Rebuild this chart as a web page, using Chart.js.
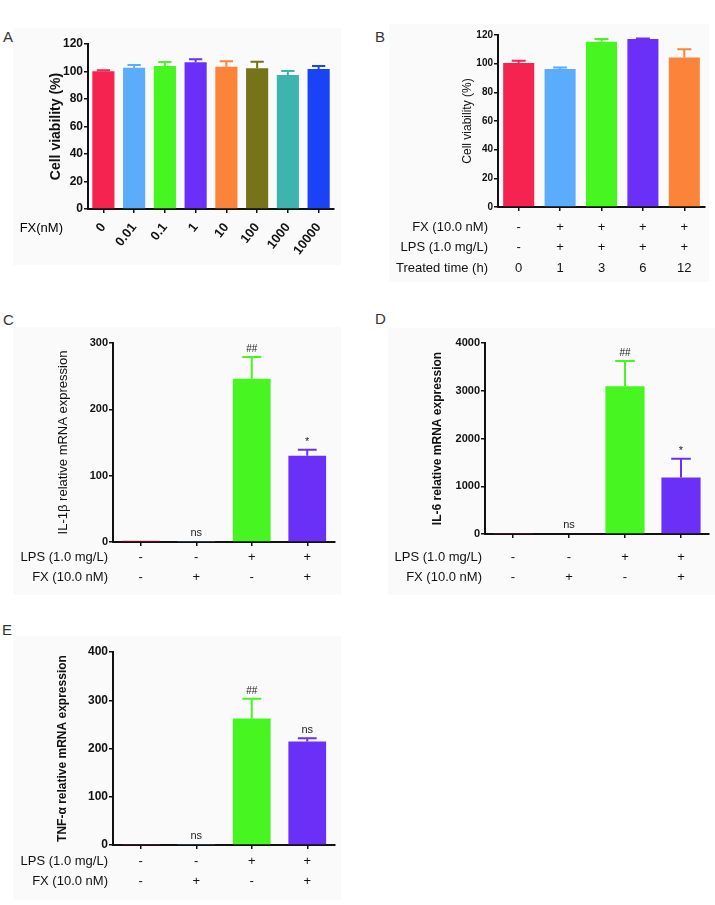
<!DOCTYPE html>
<html>
<head>
<meta charset="utf-8">
<script src="https://cdn.jsdelivr.net/npm/chart.js@4.4.0/dist/chart.umd.min.js"></script>
<style>
body { margin: 0; background: #fff; width: 715px; height: 905px; position: relative; overflow: hidden; font-family: "Liberation Sans", Arial, sans-serif; }
.panel { position: absolute; background: #fafafa; }
.tag { position: absolute; font-size: 15px; color: #333; }
canvas { position: absolute; }
</style>
</head>
<body>
<div class="panel" style="left:13px;top:28px;width:328px;height:237px"></div>
<div class="panel" style="left:389px;top:24px;width:320px;height:258px"></div>
<div class="panel" style="left:13px;top:327px;width:328px;height:268px"></div>
<div class="panel" style="left:388px;top:328px;width:327px;height:267px"></div>
<div class="panel" style="left:13px;top:636px;width:328px;height:264px"></div>

<div class="tag" style="left:3px;top:28px">A</div>
<div class="tag" style="left:375px;top:28px">B</div>
<div class="tag" style="left:3px;top:311px">C</div>
<div class="tag" style="left:375px;top:310px">D</div>
<div class="tag" style="left:2px;top:621px">E</div>

<canvas id="chartA" width="345" height="250" style="left:0;top:30px"></canvas>
<canvas id="chartB" width="355" height="265" style="left:360px;top:25px"></canvas>
<canvas id="chartC" width="345" height="270" style="left:0;top:325px"></canvas>
<canvas id="chartD" width="355" height="270" style="left:360px;top:325px"></canvas>
<canvas id="chartE" width="345" height="270" style="left:0;top:635px"></canvas>

<script>
const FONT = '"Liberation Sans", Arial, sans-serif';
Chart.defaults.font.family = FONT;
Chart.defaults.color = '#111';

const colors = ['#F5234F', '#5BACFB', '#47F520', '#6B30F8', '#FC843A', '#767419', '#3DB5AE', '#1A42F7'];

// panel A: viability vs FX dose
const aDoses = ['0', '0.01', '0.1', '1', '10', '100', '1000', '10000'];
const aViability = [100.2, 102.7, 104, 106.7, 103.5, 102.3, 97.5, 101.8];
const aError = [0.8, 2, 3, 2.3, 4, 4.8, 2.9, 2.2];

// panel B: viability vs treated time
const bTime = ['0', '1', '3', '6', '12'];
const bFx = ['-', '+', '+', '+', '+'];
const bLps = ['-', '+', '+', '+', '+'];
const bViability = [100.5, 96.3, 115.3, 117.2, 104.3];
const bError = [1.5, 1.1, 1.9, 0.4, 5.7];

// panels C, D, E: mRNA expression
const groups = ['1', '2', '3', '4'];
const lpsRow = ['-', '-', '+', '+'];
const fxRow = ['-', '+', '-', '+'];

const il1b = [2, 1.5, 246, 130];
const il1bError = [0, 0, 33, 9];
const il1bMarks = ['', 'ns', '##', '*'];

const il6 = [10, 15, 3096, 1182];
const il6Error = [0, 0, 528, 396];
const il6Marks = ['', 'ns', '##', '*'];

const tnf = [2, 2, 262, 214.5];
const tnfError = [0, 0, 41, 7];
const tnfMarks = ['', 'ns', '##', 'ns'];

// error bars, significance marks and the +/- rows under the axis
function extras(opts) {
    return {
        id: 'extras',
        afterDraw(chart) {
            const ctx = chart.ctx;
            const xs = chart.scales.x, ys = chart.scales.y;
            const bars = chart.getDatasetMeta(0).data;
            const values = chart.data.datasets[0].data;
            ctx.save();
            bars.forEach((bar, i) => {
                const err = opts.errors[i];
                const top = ys.getPixelForValue(values[i] + err);
                if (err > 0) {
                    const half = bar.width * opts.cap / 2;
                    ctx.strokeStyle = colors[i];
                    ctx.lineWidth = 2;
                    ctx.beginPath();
                    ctx.moveTo(bar.x, bar.y);
                    ctx.lineTo(bar.x, top);
                    ctx.moveTo(bar.x - half, top);
                    ctx.lineTo(bar.x + half, top);
                    ctx.stroke();
                }
                if (opts.marks && opts.marks[i]) {
                    const m = opts.marks[i];
                    ctx.fillStyle = '#222';
                    ctx.textAlign = 'center';
                    ctx.textBaseline = 'alphabetic';
                    ctx.font = (m === '##' ? '10px ' : '11px ') + FONT;
                    ctx.fillText(m, bar.x, top - 5);
                }
            });
            if (opts.rows) {
                ctx.fillStyle = '#111';
                ctx.textBaseline = 'middle';
                ctx.font = '13px ' + FONT;
                opts.rows.forEach((row, r) => {
                    const ry = chart.chartArea.bottom + opts.rowOffsets[r];
                    ctx.textAlign = 'right';
                    ctx.fillText(row.name, chart.chartArea.left - opts.headerGap, ry);
                    ctx.textAlign = 'center';
                    row.marks.forEach((m, i) => ctx.fillText(m, xs.getPixelForValue(i), ry));
                });
            }
            if (opts.xName) {
                ctx.textAlign = 'right';
                ctx.textBaseline = 'middle';
                ctx.font = '13px ' + FONT;
                ctx.fillText(opts.xName.text, opts.xName.x, opts.xName.y);
            }
            ctx.restore();
        }
    };
}

function makeChart(id, cfg) {
    const axisLine = { display: true, color: '#111', width: 2 };
    const tickMarks = { display: true, drawOnChartArea: false, offset: false, tickLength: 4, color: '#111', lineWidth: 1.5 };
    return new Chart(document.getElementById(id), {
        type: 'bar',
        data: {
            labels: cfg.labels,
            datasets: [{
                data: cfg.values,
                backgroundColor: colors.slice(0, cfg.values.length),
                borderWidth: 0,
                barPercentage: cfg.barPct,
                categoryPercentage: 1
            }]
        },
        options: {
            responsive: false,
            animation: false,
            layout: { padding: { top: cfg.padTop, right: cfg.padRight, left: 0, bottom: 0 } },
            plugins: { legend: { display: false }, tooltip: { enabled: false } },
            scales: {
                x: {
                    grid: tickMarks,
                    border: axisLine,
                    ticks: cfg.xTicks || { display: false },
                    afterFit: s => { s.height = cfg.xHeight; }
                },
                y: {
                    min: 0,
                    max: cfg.max,
                    grid: tickMarks,
                    border: axisLine,
                    ticks: {
                        stepSize: cfg.step, padding: 1, color: '#111',
                        font: { size: cfg.tickSize, weight: 'bold' },
                        callback: v => String(v)
                    },
                    title: {
                        display: true,
                        text: cfg.title,
                        color: '#111',
                        font: { size: cfg.titleSize, weight: cfg.titleBold ? 'bold' : 'normal' },
                        padding: { top: cfg.titlePad, bottom: 0 }
                    },
                    afterFit: s => { s.width = cfg.yWidth; }
                }
            }
        },
        plugins: [extras(cfg.extras)]
    });
}

makeChart('chartA', {
    labels: aDoses, values: aViability, barPct: 0.72,
    padTop: 14, padRight: 11, xHeight: 71, yWidth: 88,
    max: 120, step: 20, tickSize: 12,
    title: 'Cell viability (%)', titleSize: 14, titleBold: true, titlePad: 48,
    xTicks: { display: true, minRotation: 52, maxRotation: 52, padding: 7, color: '#111', font: { size: 13, weight: 'bold' } },
    extras: { errors: aError, cap: 0.6, xName: { text: 'FX(nM)', x: 63, y: 198 } }
});

makeChart('chartB', {
    labels: bTime, values: bViability, barPct: 0.75,
    padTop: 10, padRight: 10, xHeight: 83, yWidth: 138,
    max: 120, step: 20, tickSize: 10,
    title: 'Cell viability (%)', titleSize: 12, titleBold: false, titlePad: 100,
    extras: {
        errors: bError, cap: 0.45,
        rows: [
            { name: 'FX (10.0 nM)', marks: bFx },
            { name: 'LPS (1.0 mg/L)', marks: bLps },
            { name: 'Treated time (h)', marks: bTime }
        ],
        rowOffsets: [20, 40, 61], headerGap: 10
    }
});

makeChart('chartC', {
    labels: groups, values: il1b, barPct: 0.68,
    padTop: 18, padRight: 10, xHeight: 53, yWidth: 113,
    max: 300, step: 100, tickSize: 11,
    title: 'IL-1β relative mRNA expression', titleSize: 13, titleBold: false, titlePad: 56,
    extras: {
        errors: il1bError, cap: 0.5, marks: il1bMarks,
        rows: [
            { name: 'LPS (1.0 mg/L)', marks: lpsRow },
            { name: 'FX (10.0 nM)', marks: fxRow }
        ],
        rowOffsets: [15.5, 35], headerGap: 5
    }
});

makeChart('chartD', {
    labels: groups, values: il6, barPct: 0.7,
    padTop: 18, padRight: 6, xHeight: 61, yWidth: 125,
    max: 4000, step: 1000, tickSize: 11,
    title: 'IL-6 relative mRNA expression', titleSize: 12, titleBold: true, titlePad: 70,
    extras: {
        errors: il6Error, cap: 0.5, marks: il6Marks,
        rows: [
            { name: 'LPS (1.0 mg/L)', marks: lpsRow },
            { name: 'FX (10.0 nM)', marks: fxRow }
        ],
        rowOffsets: [23, 43], headerGap: 3
    }
});

makeChart('chartE', {
    labels: groups, values: tnf, barPct: 0.68,
    padTop: 17, padRight: 10, xHeight: 60, yWidth: 113,
    max: 400, step: 100, tickSize: 12,
    title: 'TNF-α relative mRNA expression', titleSize: 12, titleBold: true, titlePad: 55,
    extras: {
        errors: tnfError, cap: 0.5, marks: tnfMarks,
        rows: [
            { name: 'LPS (1.0 mg/L)', marks: lpsRow },
            { name: 'FX (10.0 nM)', marks: fxRow }
        ],
        rowOffsets: [16.5, 36], headerGap: 5
    }
});
</script>
</body>
</html>
